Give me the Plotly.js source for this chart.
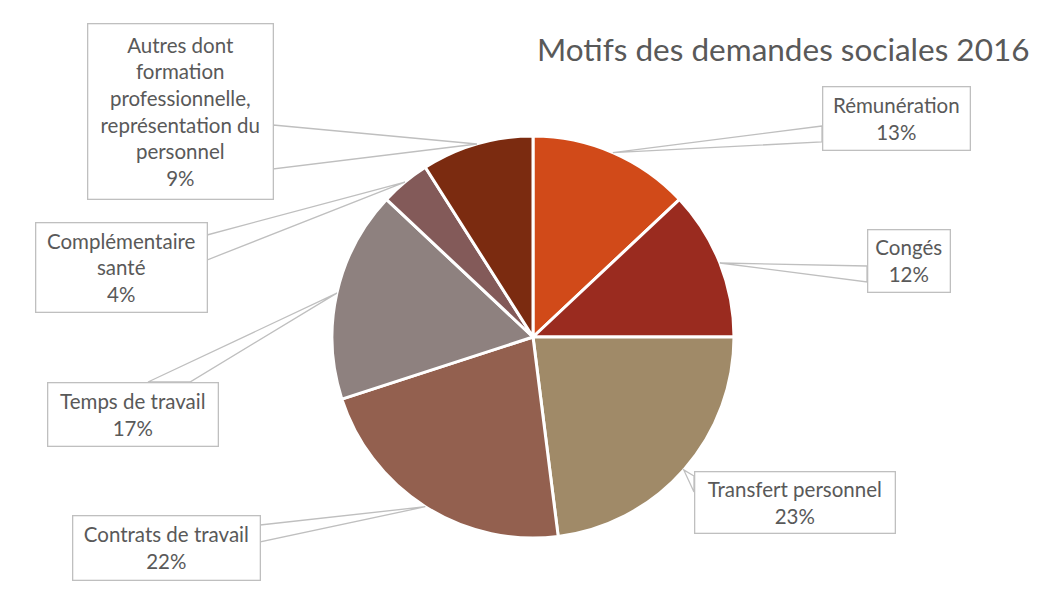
<!DOCTYPE html>
<html>
<head>
<meta charset="utf-8">
<script src="https://cdn.plot.ly/plotly-3.0.1.min.js"></script>
<style>html,body{margin:0;padding:0;background:#fff;}#chart{width:1046px;height:592px;}</style>
</head>
<body>
<div id="chart"></div>
<script>
// ---- data ----
const categories = [
  "Rémunération",
  "Congés",
  "Transfert personnel",
  "Contrats de travail",
  "Temps de travail",
  "Complémentaire santé",
  "Autres dont formation professionnelle, représentation du personnel"
];
const values = [13, 12, 23, 22, 17, 4, 9];
const labelTexts = [
  "Rémunération",
  "Congés",
  "Transfert personnel",
  "Contrats de travail",
  "Temps de travail",
  "Complémentaire<br>santé",
  "Autres dont<br>formation<br>professionnelle,<br>représentation du<br>personnel"
];
const colors = ["#D14A19", "#9A2B1F", "#A08A68", "#93604F", "#8E817F", "#835A59", "#7B2B10"];

// ---- layout helpers (positions in pixels) ----
const W = 1046, H = 592;
const cx = 533, cy = 337, R = 201;
// callout boxes: [left, top, right, bottom], pointer base points
const boxes = [
  {b: [822, 87, 970, 151], base: [[822, 126], [822, 142]]},
  {b: [867, 229, 950, 292], base: [[867, 266], [867, 282]]},
  {b: [694, 471, 895, 533], base: [[694, 476], [694, 492]]},
  {b: [72, 515, 260, 580], base: [[260, 525], [260, 542]]},
  {b: [47, 382, 218, 446], base: [[148, 382], [190, 382]]},
  {b: [35, 223, 207, 313], base: [[207, 235], [207, 260]]},
  {b: [87, 23, 273, 199], base: [[273, 125], [273, 169]]}
];
const px = x => x / W;
const py = y => 1 - y / H;

const total = values.reduce((a, b) => a + b, 0);
let cum = 0;
const shapes = [], annotations = [];
values.forEach((v, i) => {
  const mid = (cum + v / 2) / total * 2 * Math.PI;
  cum += v;
  const tx = cx + R * Math.sin(mid), ty = cy - R * Math.cos(mid);
  const bx = boxes[i];
  const [p1, p2] = bx.base;
  shapes.push({
    type: "path", xref: "paper", yref: "paper",
    path: `M ${px(p1[0])},${py(p1[1])} L ${px(tx)},${py(ty)} L ${px(p2[0])},${py(p2[1])} Z`,
    fillcolor: "#ffffff", line: {color: "#BFBFBF", width: 1.3}, layer: "above"
  });
  const [l, t, r, b] = bx.b;
  annotations.push({
    xref: "paper", yref: "paper",
    x: px((l + r) / 2), y: py((t + b) / 2),
    xanchor: "center", yanchor: "middle",
    text: labelTexts[i] + "<br>" + Math.round(v / total * 100) + "%",
    showarrow: false, align: "center",
    width: r - l - 10, height: b - t - 10,
    borderpad: 4, bordercolor: "#BFBFBF", borderwidth: 1.3, bgcolor: "#ffffff",
    font: {family: "Lato, 'Open Sans', sans-serif", size: 20.5, color: "#595959"}
  });
});

const data = [{
  type: "pie",
  labels: categories,
  values: values,
  sort: false,
  direction: "clockwise",
  rotation: 0,
  marker: {colors: colors, line: {color: "#ffffff", width: 3}},
  textinfo: "none",
  hoverinfo: "label+percent",
  showlegend: false,
  domain: {x: [(cx - R) / W, (cx + R) / W], y: [1 - (cy + R) / H, 1 - (cy - R) / H]}
}];

const layout = {
  width: W, height: H,
  margin: {l: 0, r: 0, t: 0, b: 0},
  paper_bgcolor: "#ffffff",
  showlegend: false,
  title: {
    text: "Motifs des demandes sociales 2016",
    x: 537 / W, xanchor: "left", xref: "paper",
    y: 1 - 50 / H, yanchor: "middle", yref: "paper",
    font: {family: "Lato, 'Open Sans', sans-serif", size: 31.5, color: "#595959"}
  },
  shapes: shapes,
  annotations: annotations
};

Plotly.newPlot("chart", data, layout, {displayModeBar: false, staticPlot: true});
</script>
</body>
</html>
